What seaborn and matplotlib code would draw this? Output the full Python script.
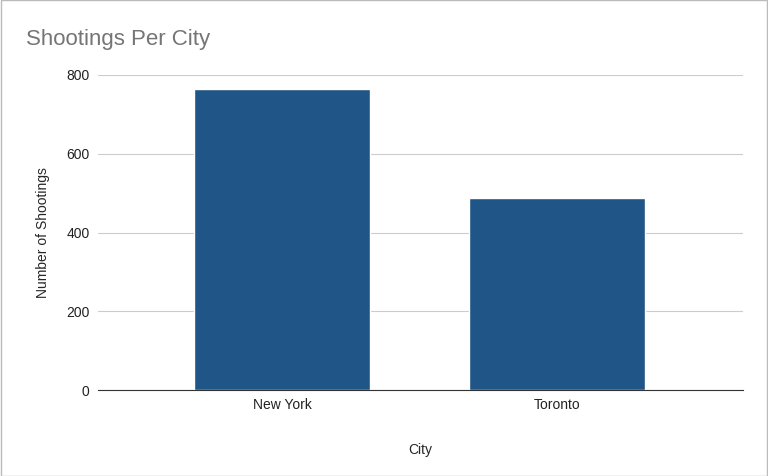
import matplotlib
matplotlib.use("Agg")
import matplotlib.pyplot as plt
import seaborn as sns
import pandas as pd

# Chart data
cities = ["New York", "Toronto"]
shootings = [765, 488]
y_ticks = [0, 200, 400, 600, 800]

data = pd.DataFrame({"City": cities, "Shootings": shootings})

sns.set_style("white")
plt.rcParams['font.family'] = ['Liberation Sans', 'DejaVu Sans']

fig = plt.figure(figsize=(7.68, 4.76), dpi=100)
ax = fig.add_axes([98 / 768, 1 - 390 / 476, 645 / 768, 315 / 476])

sns.barplot(data=data, x="City", y="Shootings", color="#1f5587", saturation=1,
            width=0.64, ax=ax)

ax.set_xlim(-0.67, 1.676)
ax.set_ylim(0, 800)
ax.set_yticks(y_ticks)
ax.grid(axis="y", color="#cccccc", linewidth=0.8)
ax.set_axisbelow(True)
for s in ["top", "right", "left"]:
    ax.spines[s].set_visible(False)
ax.spines["bottom"].set_color("#333333")
ax.tick_params(axis="both", length=0, labelsize=10, colors="#222222", pad=6)
ax.set_xlabel("City", fontsize=10, labelpad=22)
ax.set_ylabel("Number of Shootings", fontsize=10, labelpad=12)

fig.text(26 / 768, 1 - 40 / 476, "Shootings Per City", fontsize=16, color="#757575",
         va="center")

# light border around the chart
fig.patches.append(plt.Rectangle((0.001, 0.001), 0.998, 0.998, transform=fig.transFigure,
                                 fill=False, edgecolor="#bbbbbb", linewidth=1))

fig.savefig("out.png", dpi=100)
